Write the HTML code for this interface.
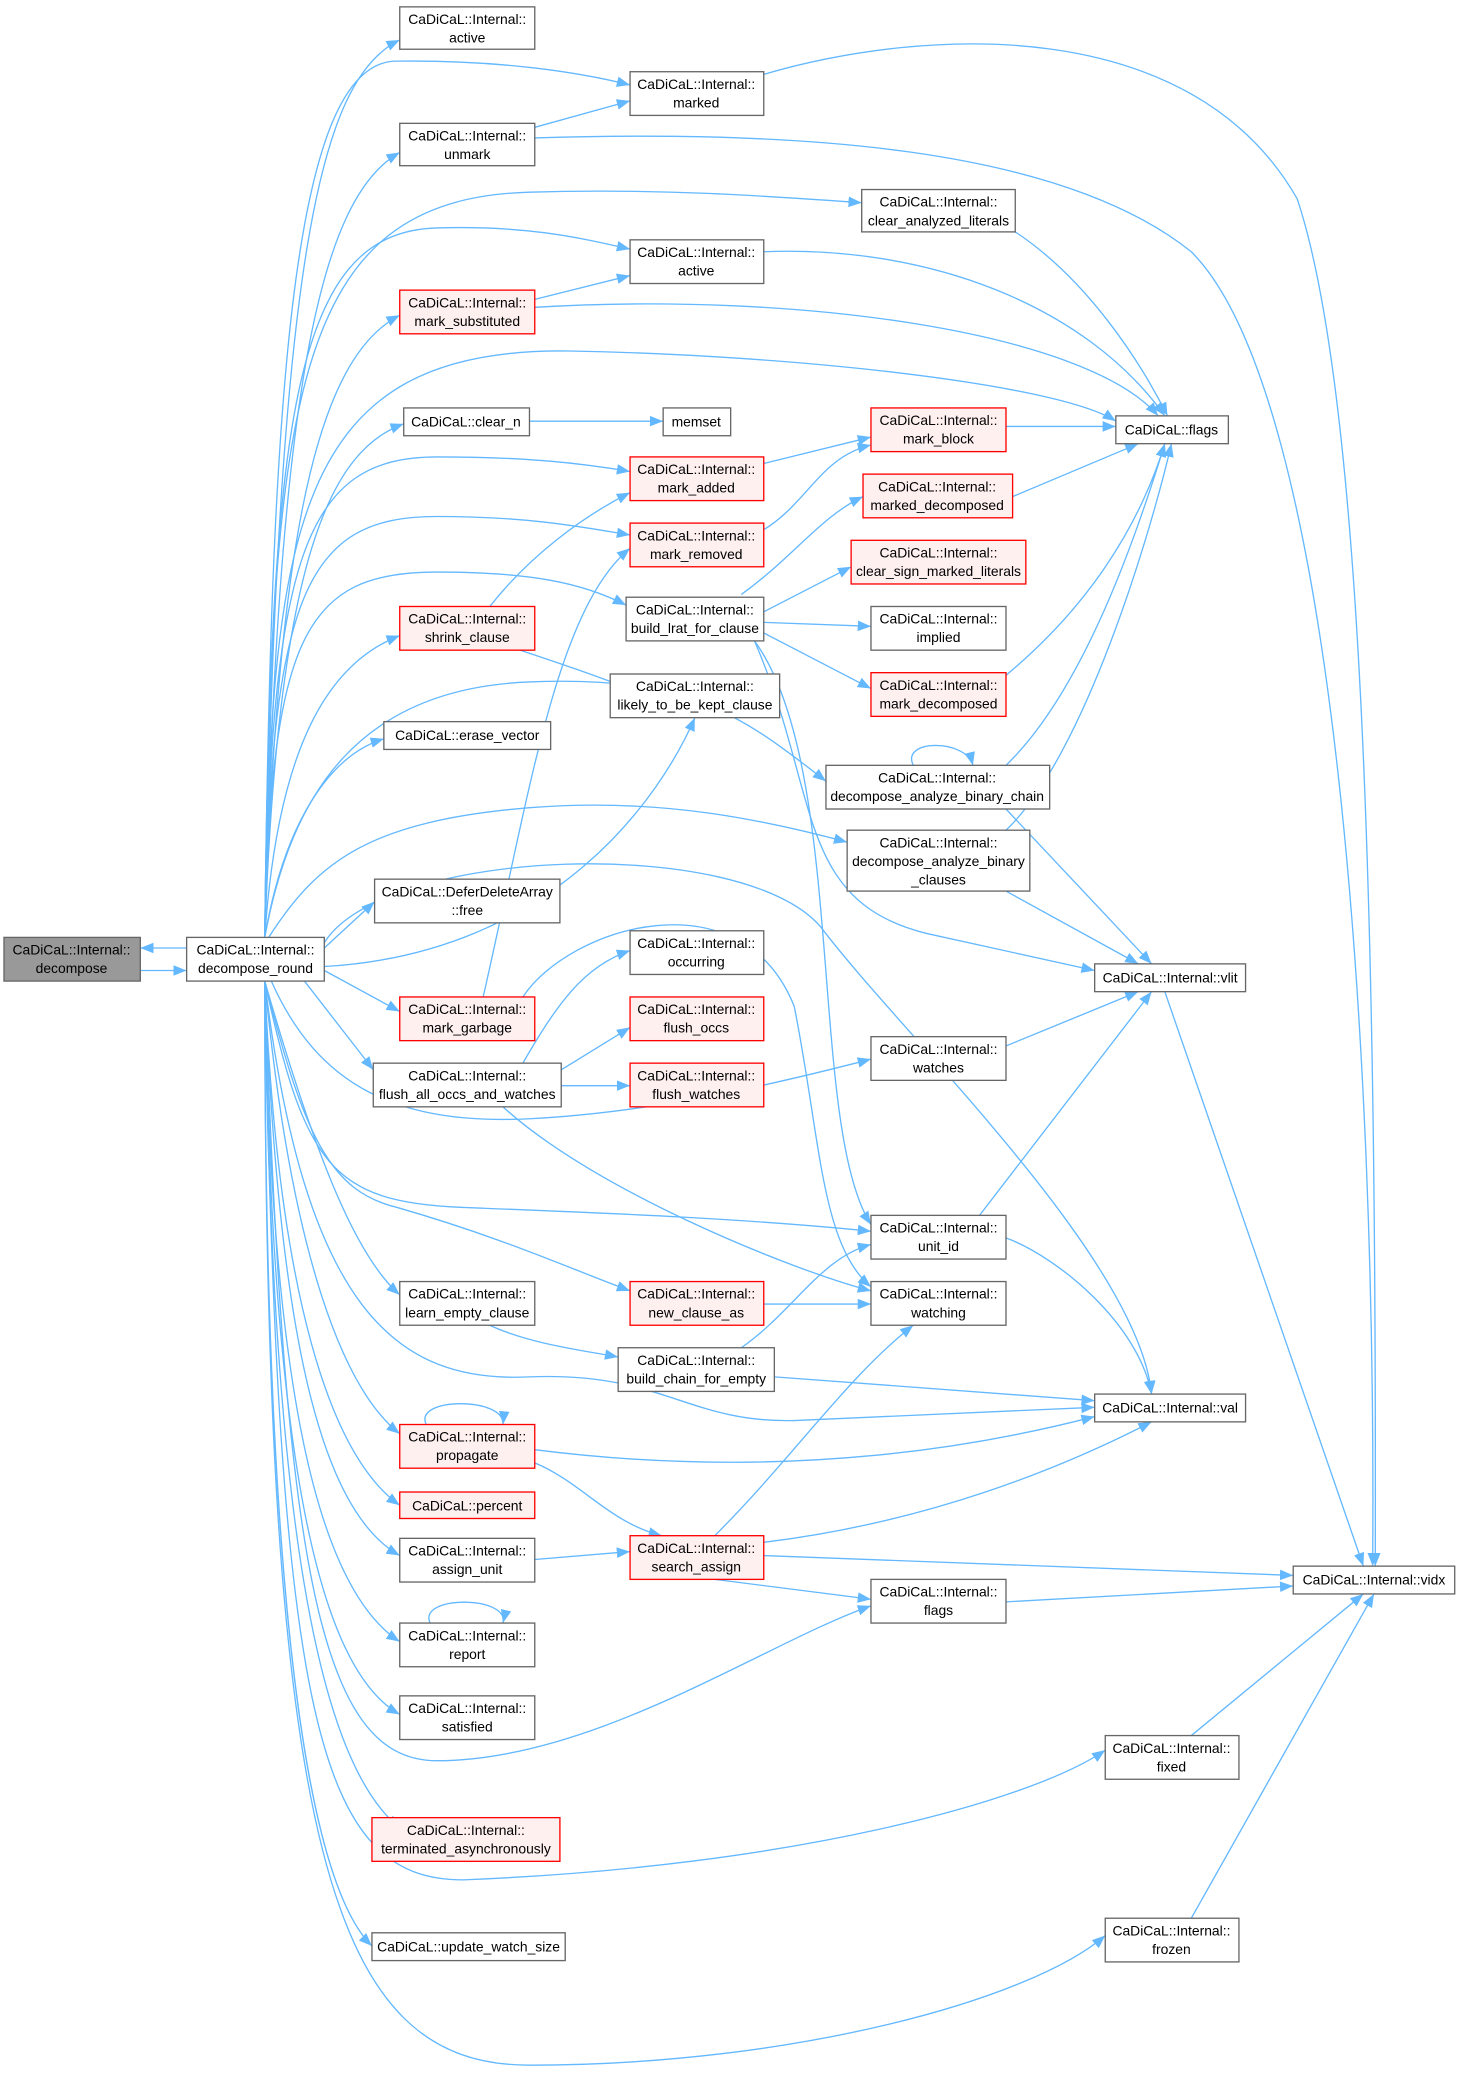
<!DOCTYPE html>
<html><head><meta charset="utf-8"><style>
html,body{margin:0;padding:0;background:#fff;}
svg{display:block;}
text{font-family:"Liberation Sans",Arial,sans-serif;font-size:10.5px;fill:#000;text-anchor:middle;}
.n{fill:#fff;stroke:#666;stroke-width:1;}
.r{fill:#fff0f0;stroke:#f00;stroke-width:1;}
.e{fill:none;stroke:#63b8ff;stroke-width:1;marker-end:url(#a);}
</style></head><body>
<svg width="1460" height="2076" viewBox="0 0 1103 1568" xmlns="http://www.w3.org/2000/svg">
<defs><marker id="a" markerUnits="userSpaceOnUse" markerWidth="10" markerHeight="8" refX="10" refY="4" orient="auto"><path d="M0,0 L10,4 L0,8 z" fill="#63b8ff"/></marker></defs>
<g>
<!-- edges -->
<path class="e" d="M141 716 L106 716"/>
<path class="e" d="M106 733 L141 733"/>
<path class="e" d="M200 708 C 210 200 240 60 302 30"/>
<path class="e" d="M200 708 C 205 300 220 45 300 46 C 380 45 440 55 476 64"/>
<path class="e" d="M200 708 C 210 300 240 150 302 115"/>
<path class="e" d="M200 708 C 205 300 220 150 400 145 C 500 142 580 148 651 153"/>
<path class="e" d="M200 708 C 205 320 220 175 330 172 C 400 170 440 180 476 188"/>
<path class="e" d="M200 708 C 210 400 240 270 302 238"/>
<path class="e" d="M200 708 C 205 400 220 262 430 265 C 600 268 800 290 843 318"/>
<path class="e" d="M200 708 C 210 420 250 340 305 320"/>
<path class="e" d="M200 708 C 205 420 230 345 330 345 C 400 345 440 350 476 356"/>
<path class="e" d="M200 708 C 205 450 230 390 330 390 C 400 390 440 398 476 404"/>
<path class="e" d="M200 708 C 205 480 230 432 330 432 C 400 432 440 440 473 457"/>
<path class="e" d="M200 708 C 210 560 250 500 302 480"/>
<path class="e" d="M200 708 C 220 600 270 520 400 515 C 520 510 560 540 624 590"/>
<path class="e" d="M200 708 C 215 620 250 570 290 558"/>
<path class="e" d="M203 708 C 240 650 280 620 400 610 C 500 602 580 620 640 636"/>
<path class="e" d="M245 712 C 290 640 560 630 620 700 C 680 780 860 950 870 1053"/>
<path class="e" d="M245 716 L283 681"/>
<path class="e" d="M245 730 C 420 720 500 600 525 542"/>
<path class="e" d="M245 733 L302 764"/>
<path class="e" d="M230 741 L282 808"/>
<path class="e" d="M205 741 C 240 820 300 850 400 845 C 500 840 600 815 658 800"/>
<path class="e" d="M200 741 C 230 880 250 908 350 912 C 450 916 560 920 658 930"/>
<path class="e" d="M200 741 C 230 860 250 900 300 912 C 380 935 430 958 476 975"/>
<path class="e" d="M200 741 C 240 880 270 950 302 978"/>
<path class="e" d="M200 741 C 230 990 300 1045 400 1040 C 500 1036 520 1075 600 1073 L 827 1063"/>
<path class="e" d="M200 741 C 220 950 260 1050 302 1083"/>
<path class="e" d="M200 741 C 210 980 250 1100 302 1137"/>
<path class="e" d="M200 741 C 210 1000 240 1140 302 1175"/>
<path class="e" d="M200 741 C 205 1050 240 1200 302 1240"/>
<path class="e" d="M200 741 C 205 1100 240 1260 302 1295"/>
<path class="e" d="M200 741 C 215 1180 240 1330 330 1330 C 450 1330 580 1240 658 1213"/>
<path class="e" d="M200 741 C 205 1150 240 1330 302 1381"/>
<path class="e" d="M200 741 C 210 1300 240 1420 350 1420 C 600 1410 780 1360 835 1322"/>
<path class="e" d="M200 741 C 200 1200 230 1420 281 1470"/>
<path class="e" d="M200 741 C 200 1400 250 1560 400 1560 C 600 1560 780 1510 835 1462"/>
<path class="e" d="M404 96 L476 76"/>
<path class="e" d="M404 104 C 600 98 800 110 900 190 C 1010 300 1040 800 1037 1183"/>
<path class="e" d="M577 56 C 700 20 900 10 980 150 C 1030 300 1040 700 1039 1183"/>
<path class="e" d="M577 190 C 700 185 820 230 880 314"/>
<path class="e" d="M404 226 L476 208"/>
<path class="e" d="M404 232 C 600 220 820 250 875 314"/>
<path class="e" d="M767 175 C 820 210 860 270 882 314"/>
<path class="e" d="M400 318 L501 318"/>
<path class="e" d="M760 322 L843 322"/>
<path class="e" d="M577 350 L658 330"/>
<path class="e" d="M577 400 C 610 380 620 345 658 336"/>
<path class="e" d="M370 458 C 400 420 440 390 476 372"/>
<path class="e" d="M390 490 C 420 500 450 510 480 522"/>
<path class="e" d="M365 753 C 400 600 420 460 476 414"/>
<path class="e" d="M395 753 C 430 700 560 660 600 760 C 620 860 620 940 658 972"/>
<path class="e" d="M560 449 C 600 420 620 390 652 375"/>
<path class="e" d="M577 462 L643 428"/>
<path class="e" d="M577 470 L658 473"/>
<path class="e" d="M577 478 L658 520"/>
<path class="e" d="M570 484 C 620 600 600 680 700 705 L 827 733"/>
<path class="e" d="M570 484 C 640 580 610 850 658 925"/>
<path class="e" d="M395 803 C 420 760 440 730 476 718"/>
<path class="e" d="M424 808 L476 776"/>
<path class="e" d="M424 820 L476 820"/>
<path class="e" d="M380 836 C 450 900 600 960 658 975"/>
<path class="e" d="M690 578 C 680 558 730 558 735 578"/>
<path class="e" d="M760 578 C 820 520 860 400 880 335"/>
<path class="e" d="M760 611 L870 728"/>
<path class="e" d="M760 627 C 820 570 870 400 885 335"/>
<path class="e" d="M760 673 L860 728"/>
<path class="e" d="M760 510 C 820 460 860 400 880 335"/>
<path class="e" d="M765 375 L860 335"/>
<path class="e" d="M760 790 L860 749"/>
<path class="e" d="M740 918 L870 749"/>
<path class="e" d="M760 935 C 800 950 860 1000 870 1053"/>
<path class="e" d="M880 749 L1030 1183"/>
<path class="e" d="M577 985 L658 985"/>
<path class="e" d="M560 1018 C 600 990 620 950 658 940"/>
<path class="e" d="M370 1001 C 400 1015 440 1020 467 1025"/>
<path class="e" d="M585 1040 L827 1058"/>
<path class="e" d="M322 1076 C 312 1055 382 1055 380 1076"/>
<path class="e" d="M404 1095 C 600 1120 750 1090 827 1070"/>
<path class="e" d="M404 1105 C 440 1120 460 1150 500 1160"/>
<path class="e" d="M404 1178 L476 1172"/>
<path class="e" d="M325 1226 C 315 1205 385 1205 380 1226"/>
<path class="e" d="M540 1160 C 600 1100 640 1040 690 1001"/>
<path class="e" d="M577 1165 C 700 1150 800 1110 870 1074"/>
<path class="e" d="M577 1175 L977 1190"/>
<path class="e" d="M540 1193 L658 1208"/>
<path class="e" d="M760 1210 L977 1198"/>
<path class="e" d="M900 1311 L1030 1204"/>
<path class="e" d="M900 1449 L1038 1204"/>
</g>
<g>
<!-- nodes -->
<rect x="3" y="708" width="103" height="33" fill="#999" stroke="#666"/><text x="54" y="721">CaDiCaL::Internal::</text><text x="54" y="735">decompose</text>
<rect class="n" x="141" y="708" width="104" height="33"/><text x="193" y="721">CaDiCaL::Internal::</text><text x="193" y="735">decompose_round</text>

<rect class="n" x="302" y="5" width="102" height="32"/><text x="353" y="18">CaDiCaL::Internal::</text><text x="353" y="32">active</text>
<rect class="n" x="302" y="93" width="102" height="32"/><text x="353" y="106">CaDiCaL::Internal::</text><text x="353" y="120">unmark</text>
<rect class="r" x="302" y="219" width="102" height="33"/><text x="353" y="232">CaDiCaL::Internal::</text><text x="353" y="246">mark_substituted</text>
<rect class="n" x="305" y="308" width="95" height="21"/><text x="352" y="322">CaDiCaL::clear_n</text>
<rect class="r" x="302" y="458" width="102" height="33"/><text x="353" y="471">CaDiCaL::Internal::</text><text x="353" y="485">shrink_clause</text>
<rect class="n" x="290" y="545" width="126" height="21"/><text x="353" y="559">CaDiCaL::erase_vector</text>
<rect class="n" x="283" y="664" width="140" height="33"/><text x="353" y="677">CaDiCaL::DeferDeleteArray</text><text x="353" y="691">::free</text>
<rect class="r" x="302" y="753" width="102" height="33"/><text x="353" y="766">CaDiCaL::Internal::</text><text x="353" y="780">mark_garbage</text>
<rect class="n" x="282" y="803" width="142" height="33"/><text x="353" y="816">CaDiCaL::Internal::</text><text x="353" y="830">flush_all_occs_and_watches</text>
<rect class="n" x="302" y="968" width="102" height="33"/><text x="353" y="981">CaDiCaL::Internal::</text><text x="353" y="995">learn_empty_clause</text>
<rect class="r" x="302" y="1076" width="102" height="33"/><text x="353" y="1089">CaDiCaL::Internal::</text><text x="353" y="1103">propagate</text>
<rect class="r" x="302" y="1127" width="102" height="20"/><text x="353" y="1141">CaDiCaL::percent</text>
<rect class="n" x="302" y="1162" width="102" height="33"/><text x="353" y="1175">CaDiCaL::Internal::</text><text x="353" y="1189">assign_unit</text>
<rect class="n" x="302" y="1226" width="102" height="33"/><text x="353" y="1239">CaDiCaL::Internal::</text><text x="353" y="1253">report</text>
<rect class="n" x="302" y="1281" width="102" height="33"/><text x="353" y="1294">CaDiCaL::Internal::</text><text x="353" y="1308">satisfied</text>
<rect class="r" x="281" y="1373" width="142" height="33"/><text x="352" y="1386">CaDiCaL::Internal::</text><text x="352" y="1400">terminated_asynchronously</text>
<rect class="n" x="281" y="1460" width="146" height="21"/><text x="354" y="1474">CaDiCaL::update_watch_size</text>

<rect class="n" x="476" y="54" width="101" height="33"/><text x="526" y="67">CaDiCaL::Internal::</text><text x="526" y="81">marked</text>
<rect class="n" x="476" y="181" width="101" height="33"/><text x="526" y="194">CaDiCaL::Internal::</text><text x="526" y="208">active</text>
<rect class="n" x="501" y="308" width="51" height="21"/><text x="526" y="322">memset</text>
<rect class="r" x="476" y="345" width="101" height="33"/><text x="526" y="358">CaDiCaL::Internal::</text><text x="526" y="372">mark_added</text>
<rect class="r" x="476" y="395" width="101" height="33"/><text x="526" y="408">CaDiCaL::Internal::</text><text x="526" y="422">mark_removed</text>
<rect class="n" x="473" y="451" width="104" height="33"/><text x="525" y="464">CaDiCaL::Internal::</text><text x="525" y="478">build_lrat_for_clause</text>
<rect class="n" x="461" y="509" width="128" height="33"/><text x="525" y="522">CaDiCaL::Internal::</text><text x="525" y="536">likely_to_be_kept_clause</text>
<rect class="n" x="476" y="703" width="101" height="33"/><text x="526" y="716">CaDiCaL::Internal::</text><text x="526" y="730">occurring</text>
<rect class="r" x="476" y="753" width="101" height="33"/><text x="526" y="766">CaDiCaL::Internal::</text><text x="526" y="780">flush_occs</text>
<rect class="r" x="476" y="803" width="101" height="33"/><text x="526" y="816">CaDiCaL::Internal::</text><text x="526" y="830">flush_watches</text>
<rect class="r" x="476" y="968" width="101" height="33"/><text x="526" y="981">CaDiCaL::Internal::</text><text x="526" y="995">new_clause_as</text>
<rect class="n" x="467" y="1018" width="118" height="33"/><text x="526" y="1031">CaDiCaL::Internal::</text><text x="526" y="1045">build_chain_for_empty</text>
<rect class="r" x="476" y="1160" width="101" height="33"/><text x="526" y="1173">CaDiCaL::Internal::</text><text x="526" y="1187">search_assign</text>

<rect class="n" x="651" y="143" width="116" height="32"/><text x="709" y="156">CaDiCaL::Internal::</text><text x="709" y="170">clear_analyzed_literals</text>
<rect class="r" x="658" y="308" width="102" height="33"/><text x="709" y="321">CaDiCaL::Internal::</text><text x="709" y="335">mark_block</text>
<rect class="r" x="652" y="358" width="113" height="33"/><text x="708" y="371">CaDiCaL::Internal::</text><text x="708" y="385">marked_decomposed</text>
<rect class="r" x="643" y="408" width="132" height="33"/><text x="709" y="421">CaDiCaL::Internal::</text><text x="709" y="435">clear_sign_marked_literals</text>
<rect class="n" x="658" y="458" width="102" height="33"/><text x="709" y="471">CaDiCaL::Internal::</text><text x="709" y="485">implied</text>
<rect class="r" x="658" y="508" width="102" height="33"/><text x="709" y="521">CaDiCaL::Internal::</text><text x="709" y="535">mark_decomposed</text>
<rect class="n" x="624" y="578" width="169" height="33"/><text x="708" y="591">CaDiCaL::Internal::</text><text x="708" y="605">decompose_analyze_binary_chain</text>
<rect class="n" x="640" y="627" width="138" height="46"/><text x="709" y="640">CaDiCaL::Internal::</text><text x="709" y="654">decompose_analyze_binary</text><text x="709" y="668">_clauses</text>
<rect class="n" x="658" y="783" width="102" height="33"/><text x="709" y="796">CaDiCaL::Internal::</text><text x="709" y="810">watches</text>
<rect class="n" x="658" y="918" width="102" height="33"/><text x="709" y="931">CaDiCaL::Internal::</text><text x="709" y="945">unit_id</text>
<rect class="n" x="658" y="968" width="102" height="33"/><text x="709" y="981">CaDiCaL::Internal::</text><text x="709" y="995">watching</text>
<rect class="n" x="658" y="1193" width="102" height="33"/><text x="709" y="1206">CaDiCaL::Internal::</text><text x="709" y="1220">flags</text>
<rect class="n" x="835" y="1311" width="101" height="33"/><text x="885" y="1324">CaDiCaL::Internal::</text><text x="885" y="1338">fixed</text>
<rect class="n" x="835" y="1449" width="101" height="33"/><text x="885" y="1462">CaDiCaL::Internal::</text><text x="885" y="1476">frozen</text>

<rect class="n" x="843" y="314" width="85" height="21"/><text x="885" y="328">CaDiCaL::flags</text>
<rect class="n" x="827" y="728" width="114" height="21"/><text x="884" y="742">CaDiCaL::Internal::vlit</text>
<rect class="n" x="827" y="1053" width="114" height="21"/><text x="884" y="1067">CaDiCaL::Internal::val</text>
<rect class="n" x="977" y="1183" width="122" height="21"/><text x="1038" y="1197">CaDiCaL::Internal::vidx</text>
</g>
</svg>
</body></html>
